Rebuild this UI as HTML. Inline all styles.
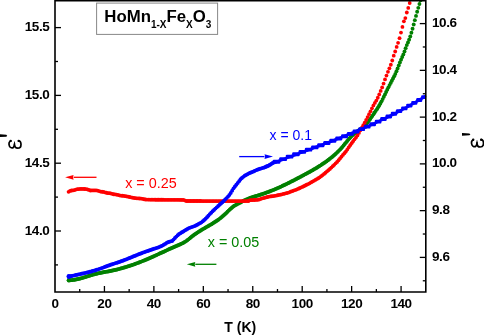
<!DOCTYPE html>
<html><head><meta charset="utf-8"><style>
html,body{margin:0;padding:0;background:#fff;width:484px;height:335px;overflow:hidden}
svg{display:block;will-change:transform}
</style></head><body>
<svg width="484" height="335" viewBox="0 0 484 335">
<rect width="484" height="335" fill="#fff"/>
<g fill="#008000"><circle cx="68.90" cy="280.22" r="1.95"/><circle cx="70.05" cy="280.21" r="1.95"/><circle cx="71.20" cy="280.15" r="1.95"/><circle cx="72.35" cy="280.05" r="1.95"/><circle cx="73.50" cy="279.92" r="1.95"/><circle cx="74.65" cy="279.75" r="1.95"/><circle cx="75.80" cy="279.55" r="1.95"/><circle cx="76.95" cy="279.32" r="1.95"/><circle cx="78.09" cy="279.06" r="1.95"/><circle cx="79.24" cy="278.78" r="1.95"/><circle cx="80.39" cy="278.48" r="1.95"/><circle cx="81.54" cy="278.16" r="1.95"/><circle cx="82.69" cy="277.83" r="1.95"/><circle cx="83.84" cy="277.49" r="1.95"/><circle cx="84.99" cy="277.13" r="1.95"/><circle cx="86.14" cy="276.77" r="1.95"/><circle cx="87.29" cy="276.41" r="1.95"/><circle cx="88.44" cy="276.04" r="1.95"/><circle cx="89.59" cy="275.68" r="1.95"/><circle cx="90.74" cy="275.32" r="1.95"/><circle cx="91.89" cy="274.97" r="1.95"/><circle cx="93.04" cy="274.63" r="1.95"/><circle cx="94.19" cy="274.31" r="1.95"/><circle cx="95.33" cy="273.99" r="1.95"/><circle cx="96.48" cy="273.70" r="1.95"/><circle cx="97.63" cy="273.43" r="1.95"/><circle cx="98.78" cy="273.17" r="1.95"/><circle cx="99.93" cy="272.93" r="1.95"/><circle cx="101.08" cy="272.70" r="1.95"/><circle cx="102.23" cy="272.48" r="1.95"/><circle cx="103.38" cy="272.26" r="1.95"/><circle cx="104.53" cy="272.05" r="1.95"/><circle cx="105.68" cy="271.84" r="1.95"/><circle cx="106.83" cy="271.64" r="1.95"/><circle cx="107.98" cy="271.43" r="1.95"/><circle cx="109.13" cy="271.21" r="1.95"/><circle cx="110.28" cy="270.98" r="1.95"/><circle cx="111.43" cy="270.75" r="1.95"/><circle cx="112.58" cy="270.51" r="1.95"/><circle cx="113.72" cy="270.25" r="1.95"/><circle cx="114.87" cy="269.99" r="1.95"/><circle cx="116.02" cy="269.72" r="1.95"/><circle cx="117.17" cy="269.44" r="1.95"/><circle cx="118.32" cy="269.15" r="1.95"/><circle cx="119.47" cy="268.85" r="1.95"/><circle cx="120.62" cy="268.54" r="1.95"/><circle cx="121.77" cy="268.22" r="1.95"/><circle cx="122.92" cy="267.90" r="1.95"/><circle cx="124.07" cy="267.56" r="1.95"/><circle cx="125.22" cy="267.22" r="1.95"/><circle cx="126.37" cy="266.87" r="1.95"/><circle cx="127.52" cy="266.51" r="1.95"/><circle cx="128.67" cy="266.14" r="1.95"/><circle cx="129.82" cy="265.76" r="1.95"/><circle cx="130.96" cy="265.38" r="1.95"/><circle cx="132.11" cy="264.99" r="1.95"/><circle cx="133.26" cy="264.59" r="1.95"/><circle cx="134.41" cy="264.18" r="1.95"/><circle cx="135.56" cy="263.77" r="1.95"/><circle cx="136.71" cy="263.34" r="1.95"/><circle cx="137.86" cy="262.91" r="1.95"/><circle cx="139.01" cy="262.48" r="1.95"/><circle cx="140.16" cy="262.03" r="1.95"/><circle cx="141.31" cy="261.58" r="1.95"/><circle cx="142.46" cy="261.12" r="1.95"/><circle cx="143.61" cy="260.66" r="1.95"/><circle cx="144.76" cy="260.18" r="1.95"/><circle cx="145.91" cy="259.70" r="1.95"/><circle cx="147.06" cy="259.22" r="1.95"/><circle cx="148.20" cy="258.73" r="1.95"/><circle cx="149.35" cy="258.23" r="1.95"/><circle cx="150.50" cy="257.73" r="1.95"/><circle cx="151.65" cy="257.22" r="1.95"/><circle cx="152.80" cy="256.71" r="1.95"/><circle cx="153.95" cy="256.19" r="1.95"/><circle cx="155.10" cy="255.67" r="1.95"/><circle cx="156.25" cy="255.15" r="1.95"/><circle cx="157.40" cy="254.62" r="1.95"/><circle cx="158.55" cy="254.10" r="1.95"/><circle cx="159.70" cy="253.57" r="1.95"/><circle cx="160.85" cy="253.04" r="1.95"/><circle cx="162.00" cy="252.50" r="1.95"/><circle cx="163.15" cy="251.97" r="1.95"/><circle cx="164.30" cy="251.44" r="1.95"/><circle cx="165.45" cy="250.91" r="1.95"/><circle cx="166.59" cy="250.37" r="1.95"/><circle cx="167.74" cy="249.84" r="1.95"/><circle cx="168.89" cy="249.31" r="1.95"/><circle cx="170.04" cy="248.78" r="1.95"/><circle cx="171.19" cy="248.26" r="1.95"/><circle cx="172.34" cy="247.74" r="1.95"/><circle cx="173.49" cy="247.22" r="1.95"/><circle cx="174.64" cy="246.70" r="1.95"/><circle cx="175.79" cy="246.19" r="1.95"/><circle cx="176.94" cy="245.68" r="1.95"/><circle cx="178.09" cy="245.18" r="1.95"/><circle cx="179.24" cy="244.68" r="1.95"/><circle cx="180.39" cy="244.19" r="1.95"/><circle cx="181.54" cy="243.67" r="1.95"/><circle cx="182.69" cy="243.13" r="1.95"/><circle cx="183.83" cy="242.52" r="1.95"/><circle cx="184.98" cy="241.85" r="1.95"/><circle cx="186.13" cy="241.09" r="1.95"/><circle cx="187.28" cy="240.25" r="1.95"/><circle cx="188.43" cy="239.36" r="1.95"/><circle cx="189.58" cy="238.42" r="1.95"/><circle cx="190.73" cy="237.48" r="1.95"/><circle cx="191.88" cy="236.55" r="1.95"/><circle cx="193.03" cy="235.66" r="1.95"/><circle cx="194.18" cy="234.80" r="1.95"/><circle cx="195.33" cy="233.97" r="1.95"/><circle cx="196.48" cy="233.18" r="1.95"/><circle cx="197.63" cy="232.41" r="1.95"/><circle cx="198.78" cy="231.67" r="1.95"/><circle cx="199.93" cy="230.94" r="1.95"/><circle cx="201.07" cy="230.24" r="1.95"/><circle cx="202.22" cy="229.55" r="1.95"/><circle cx="203.37" cy="228.87" r="1.95"/><circle cx="204.52" cy="228.20" r="1.95"/><circle cx="205.67" cy="227.54" r="1.95"/><circle cx="206.82" cy="226.87" r="1.95"/><circle cx="207.97" cy="226.21" r="1.95"/><circle cx="209.12" cy="225.55" r="1.95"/><circle cx="210.27" cy="224.87" r="1.95"/><circle cx="211.42" cy="224.19" r="1.95"/><circle cx="212.57" cy="223.49" r="1.95"/><circle cx="213.72" cy="222.78" r="1.95"/><circle cx="214.87" cy="222.04" r="1.95"/><circle cx="216.02" cy="221.28" r="1.95"/><circle cx="217.17" cy="220.50" r="1.95"/><circle cx="218.32" cy="219.69" r="1.95"/><circle cx="219.46" cy="218.84" r="1.95"/><circle cx="220.61" cy="217.96" r="1.95"/><circle cx="221.76" cy="217.04" r="1.95"/><circle cx="222.91" cy="216.07" r="1.95"/><circle cx="224.06" cy="215.07" r="1.95"/><circle cx="225.21" cy="214.01" r="1.95"/><circle cx="226.36" cy="212.90" r="1.95"/><circle cx="227.51" cy="211.76" r="1.95"/><circle cx="228.66" cy="210.62" r="1.95"/><circle cx="229.81" cy="209.50" r="1.95"/><circle cx="230.96" cy="208.43" r="1.95"/><circle cx="232.11" cy="207.43" r="1.95"/><circle cx="233.26" cy="206.54" r="1.95"/><circle cx="234.41" cy="205.77" r="1.95"/><circle cx="235.56" cy="205.08" r="1.95"/><circle cx="236.70" cy="204.46" r="1.95"/><circle cx="237.85" cy="203.86" r="1.95"/><circle cx="239.00" cy="203.26" r="1.95"/><circle cx="240.15" cy="202.63" r="1.95"/><circle cx="241.30" cy="202.00" r="1.95"/><circle cx="242.45" cy="201.36" r="1.95"/><circle cx="243.60" cy="200.74" r="1.95"/><circle cx="244.75" cy="200.15" r="1.95"/><circle cx="245.90" cy="199.60" r="1.95"/><circle cx="247.05" cy="199.10" r="1.95"/><circle cx="248.20" cy="198.63" r="1.95"/><circle cx="249.35" cy="198.19" r="1.95"/><circle cx="250.50" cy="197.78" r="1.95"/><circle cx="251.65" cy="197.39" r="1.95"/><circle cx="252.80" cy="197.03" r="1.95"/><circle cx="253.94" cy="196.67" r="1.95"/><circle cx="255.09" cy="196.32" r="1.95"/><circle cx="256.24" cy="195.98" r="1.95"/><circle cx="257.39" cy="195.64" r="1.95"/><circle cx="258.54" cy="195.29" r="1.95"/><circle cx="259.69" cy="194.93" r="1.95"/><circle cx="260.84" cy="194.56" r="1.95"/><circle cx="261.99" cy="194.18" r="1.95"/><circle cx="263.14" cy="193.79" r="1.95"/><circle cx="264.29" cy="193.39" r="1.95"/><circle cx="265.44" cy="192.98" r="1.95"/><circle cx="266.59" cy="192.57" r="1.95"/><circle cx="267.74" cy="192.14" r="1.95"/><circle cx="268.89" cy="191.71" r="1.95"/><circle cx="270.04" cy="191.26" r="1.95"/><circle cx="271.18" cy="190.81" r="1.95"/><circle cx="272.33" cy="190.35" r="1.95"/><circle cx="273.48" cy="189.88" r="1.95"/><circle cx="274.63" cy="189.40" r="1.95"/><circle cx="275.78" cy="188.91" r="1.95"/><circle cx="276.93" cy="188.41" r="1.95"/><circle cx="278.08" cy="187.91" r="1.95"/><circle cx="279.23" cy="187.40" r="1.95"/><circle cx="280.38" cy="186.88" r="1.95"/><circle cx="281.53" cy="186.35" r="1.95"/><circle cx="282.68" cy="185.81" r="1.95"/><circle cx="283.83" cy="185.27" r="1.95"/><circle cx="284.98" cy="184.72" r="1.95"/><circle cx="286.13" cy="184.16" r="1.95"/><circle cx="287.28" cy="183.60" r="1.95"/><circle cx="288.43" cy="183.03" r="1.95"/><circle cx="289.57" cy="182.45" r="1.95"/><circle cx="290.72" cy="181.87" r="1.95"/><circle cx="291.87" cy="181.29" r="1.95"/><circle cx="293.02" cy="180.70" r="1.95"/><circle cx="294.17" cy="180.10" r="1.95"/><circle cx="295.32" cy="179.50" r="1.95"/><circle cx="296.47" cy="178.90" r="1.95"/><circle cx="297.62" cy="178.30" r="1.95"/><circle cx="298.77" cy="177.69" r="1.95"/><circle cx="299.92" cy="177.08" r="1.95"/><circle cx="301.07" cy="176.47" r="1.95"/><circle cx="302.22" cy="175.85" r="1.95"/><circle cx="303.37" cy="175.24" r="1.95"/><circle cx="304.52" cy="174.62" r="1.95"/><circle cx="305.67" cy="174.00" r="1.95"/><circle cx="306.81" cy="173.38" r="1.95"/><circle cx="307.96" cy="172.76" r="1.95"/><circle cx="309.11" cy="172.13" r="1.95"/><circle cx="310.26" cy="171.49" r="1.95"/><circle cx="311.41" cy="170.85" r="1.95"/><circle cx="312.56" cy="170.19" r="1.95"/><circle cx="313.71" cy="169.53" r="1.95"/><circle cx="314.86" cy="168.86" r="1.95"/><circle cx="316.01" cy="168.18" r="1.95"/><circle cx="317.16" cy="167.49" r="1.95"/><circle cx="318.31" cy="166.78" r="1.95"/><circle cx="319.46" cy="166.06" r="1.95"/><circle cx="320.61" cy="165.33" r="1.95"/><circle cx="321.76" cy="164.57" r="1.95"/><circle cx="322.91" cy="163.81" r="1.95"/><circle cx="324.05" cy="163.02" r="1.95"/><circle cx="325.20" cy="162.21" r="1.95"/><circle cx="326.35" cy="161.39" r="1.95"/><circle cx="327.50" cy="160.54" r="1.95"/><circle cx="328.65" cy="159.68" r="1.95"/><circle cx="329.80" cy="158.79" r="1.95"/><circle cx="330.95" cy="157.87" r="1.95"/><circle cx="332.10" cy="156.94" r="1.95"/><circle cx="333.25" cy="155.97" r="1.95"/><circle cx="334.40" cy="154.97" r="1.95"/><circle cx="335.55" cy="153.94" r="1.95"/><circle cx="336.70" cy="152.87" r="1.95"/><circle cx="337.85" cy="151.76" r="1.95"/><circle cx="339.00" cy="150.60" r="1.95"/><circle cx="340.15" cy="149.40" r="1.95"/><circle cx="341.30" cy="148.14" r="1.95"/><circle cx="342.44" cy="146.83" r="1.95"/><circle cx="343.59" cy="145.46" r="1.95"/><circle cx="344.74" cy="144.06" r="1.95"/><circle cx="345.89" cy="142.64" r="1.95"/><circle cx="347.04" cy="141.23" r="1.95"/><circle cx="348.19" cy="139.84" r="1.95"/><circle cx="349.34" cy="138.49" r="1.95"/><circle cx="350.49" cy="137.21" r="1.95"/><circle cx="351.64" cy="136.02" r="1.95"/><circle cx="352.79" cy="134.93" r="1.95"/><circle cx="353.94" cy="133.94" r="1.95"/><circle cx="355.09" cy="133.03" r="1.95"/><circle cx="356.24" cy="132.18" r="1.95"/><circle cx="357.39" cy="131.36" r="1.95"/><circle cx="358.54" cy="130.57" r="1.95"/><circle cx="359.68" cy="129.77" r="1.95"/><circle cx="360.83" cy="128.95" r="1.95"/><circle cx="361.98" cy="128.08" r="1.95"/><circle cx="363.13" cy="127.14" r="1.95"/><circle cx="364.28" cy="126.12" r="1.95"/><circle cx="365.43" cy="124.99" r="1.95"/><circle cx="366.58" cy="123.73" r="1.95"/><circle cx="367.73" cy="122.33" r="1.95"/><circle cx="368.88" cy="120.82" r="1.95"/><circle cx="370.03" cy="119.22" r="1.95"/><circle cx="371.18" cy="117.57" r="1.95"/><circle cx="372.33" cy="115.88" r="1.95"/><circle cx="373.48" cy="114.19" r="1.95"/><circle cx="374.63" cy="112.51" r="1.95"/><circle cx="375.78" cy="110.84" r="1.95"/><circle cx="376.92" cy="109.14" r="1.95"/><circle cx="378.07" cy="107.37" r="1.95"/><circle cx="379.22" cy="105.50" r="1.95"/><circle cx="380.37" cy="103.49" r="1.95"/><circle cx="381.52" cy="101.35" r="1.95"/><circle cx="382.67" cy="99.10" r="1.95"/><circle cx="383.82" cy="96.78" r="1.95"/><circle cx="384.97" cy="94.41" r="1.95"/><circle cx="386.12" cy="92.03" r="1.95"/><circle cx="387.27" cy="89.66" r="1.95"/><circle cx="388.42" cy="87.33" r="1.95"/><circle cx="389.57" cy="85.08" r="1.95"/><circle cx="390.72" cy="82.90" r="1.95"/><circle cx="391.87" cy="80.74" r="1.95"/><circle cx="393.02" cy="78.55" r="1.95"/><circle cx="394.17" cy="76.29" r="1.95"/><circle cx="395.31" cy="73.89" r="1.95"/><circle cx="396.46" cy="71.32" r="1.95"/><circle cx="397.61" cy="68.51" r="1.95"/><circle cx="398.76" cy="65.52" r="1.95"/><circle cx="399.91" cy="62.50" r="1.95"/><circle cx="401.06" cy="59.63" r="1.95"/><circle cx="402.21" cy="57.01" r="1.95"/><circle cx="403.36" cy="54.39" r="1.95"/><circle cx="404.51" cy="51.44" r="1.95"/><circle cx="405.66" cy="48.17" r="1.95"/><circle cx="406.81" cy="45.10" r="1.95"/><circle cx="407.96" cy="42.41" r="1.95"/><circle cx="409.11" cy="39.66" r="1.95"/><circle cx="410.26" cy="36.45" r="1.95"/><circle cx="411.41" cy="32.75" r="1.95"/><circle cx="412.55" cy="28.70" r="1.95"/><circle cx="413.70" cy="24.45" r="1.95"/><circle cx="414.85" cy="20.13" r="1.95"/><circle cx="416.00" cy="15.89" r="1.95"/><circle cx="417.15" cy="11.81" r="1.95"/><circle cx="418.30" cy="7.87" r="1.95"/><circle cx="419.45" cy="4.03" r="1.95"/><circle cx="420.60" cy="0.24" r="1.95"/></g>
<circle cx="68.9" cy="280.3" r="2.2" fill="#008000"/>
<g fill="#ff0000"><circle cx="68.60" cy="191.80" r="1.9"/><circle cx="70.05" cy="190.93" r="1.9"/><circle cx="71.50" cy="190.52" r="1.9"/><circle cx="72.95" cy="190.38" r="1.9"/><circle cx="74.41" cy="190.10" r="1.9"/><circle cx="75.86" cy="189.61" r="1.9"/><circle cx="77.31" cy="189.18" r="1.9"/><circle cx="78.76" cy="189.05" r="1.9"/><circle cx="80.21" cy="188.92" r="1.9"/><circle cx="81.66" cy="188.90" r="1.9"/><circle cx="83.11" cy="188.90" r="1.9"/><circle cx="84.57" cy="188.98" r="1.9"/><circle cx="86.02" cy="189.11" r="1.9"/><circle cx="87.47" cy="189.38" r="1.9"/><circle cx="88.92" cy="189.96" r="1.9"/><circle cx="90.37" cy="190.50" r="1.9"/><circle cx="91.82" cy="190.46" r="1.9"/><circle cx="93.28" cy="190.42" r="1.9"/><circle cx="94.73" cy="190.42" r="1.9"/><circle cx="96.18" cy="190.47" r="1.9"/><circle cx="97.63" cy="190.61" r="1.9"/><circle cx="99.08" cy="191.09" r="1.9"/><circle cx="100.53" cy="191.58" r="1.9"/><circle cx="101.98" cy="191.77" r="1.9"/><circle cx="103.44" cy="191.95" r="1.9"/><circle cx="104.89" cy="192.33" r="1.9"/><circle cx="106.34" cy="192.77" r="1.9"/><circle cx="107.79" cy="193.06" r="1.9"/><circle cx="109.24" cy="193.19" r="1.9"/><circle cx="110.69" cy="193.39" r="1.9"/><circle cx="112.14" cy="193.83" r="1.9"/><circle cx="113.60" cy="194.27" r="1.9"/><circle cx="115.05" cy="194.42" r="1.9"/><circle cx="116.50" cy="194.55" r="1.9"/><circle cx="117.95" cy="194.89" r="1.9"/><circle cx="119.40" cy="195.33" r="1.9"/><circle cx="120.85" cy="195.64" r="1.9"/><circle cx="122.31" cy="195.73" r="1.9"/><circle cx="123.76" cy="195.87" r="1.9"/><circle cx="125.21" cy="196.15" r="1.9"/><circle cx="126.66" cy="196.43" r="1.9"/><circle cx="128.11" cy="196.71" r="1.9"/><circle cx="129.56" cy="197.01" r="1.9"/><circle cx="131.01" cy="197.32" r="1.9"/><circle cx="132.47" cy="197.63" r="1.9"/><circle cx="133.92" cy="197.95" r="1.9"/><circle cx="135.37" cy="198.22" r="1.9"/><circle cx="136.82" cy="198.30" r="1.9"/><circle cx="138.27" cy="198.39" r="1.9"/><circle cx="139.72" cy="198.48" r="1.9"/><circle cx="141.17" cy="198.57" r="1.9"/><circle cx="142.63" cy="198.85" r="1.9"/><circle cx="144.08" cy="199.25" r="1.9"/><circle cx="145.53" cy="199.52" r="1.9"/><circle cx="146.98" cy="199.56" r="1.9"/><circle cx="148.43" cy="199.61" r="1.9"/><circle cx="149.88" cy="199.65" r="1.9"/><circle cx="151.33" cy="199.70" r="1.9"/><circle cx="152.79" cy="199.71" r="1.9"/><circle cx="154.24" cy="199.72" r="1.9"/><circle cx="155.69" cy="199.73" r="1.9"/><circle cx="157.14" cy="199.74" r="1.9"/><circle cx="158.59" cy="199.74" r="1.9"/><circle cx="160.04" cy="199.75" r="1.9"/><circle cx="161.50" cy="199.76" r="1.9"/><circle cx="162.95" cy="199.77" r="1.9"/><circle cx="164.40" cy="199.78" r="1.9"/><circle cx="165.85" cy="199.79" r="1.9"/><circle cx="167.30" cy="199.80" r="1.9"/><circle cx="168.75" cy="199.81" r="1.9"/><circle cx="170.20" cy="199.82" r="1.9"/><circle cx="171.66" cy="199.82" r="1.9"/><circle cx="173.11" cy="199.83" r="1.9"/><circle cx="174.56" cy="199.84" r="1.9"/><circle cx="176.01" cy="199.85" r="1.9"/><circle cx="177.46" cy="199.86" r="1.9"/><circle cx="178.91" cy="199.87" r="1.9"/><circle cx="180.36" cy="199.88" r="1.9"/><circle cx="181.82" cy="199.89" r="1.9"/><circle cx="183.27" cy="199.90" r="1.9"/><circle cx="184.72" cy="200.30" r="1.9"/><circle cx="186.17" cy="201.00" r="1.9"/><circle cx="187.62" cy="201.00" r="1.9"/><circle cx="189.07" cy="201.00" r="1.9"/><circle cx="190.53" cy="201.01" r="1.9"/><circle cx="191.98" cy="201.01" r="1.9"/><circle cx="193.43" cy="201.01" r="1.9"/><circle cx="194.88" cy="201.01" r="1.9"/><circle cx="196.33" cy="201.02" r="1.9"/><circle cx="197.78" cy="201.02" r="1.9"/><circle cx="199.23" cy="201.02" r="1.9"/><circle cx="200.69" cy="201.02" r="1.9"/><circle cx="202.14" cy="201.03" r="1.9"/><circle cx="203.59" cy="201.03" r="1.9"/><circle cx="205.04" cy="201.03" r="1.9"/><circle cx="206.49" cy="201.03" r="1.9"/><circle cx="207.94" cy="201.04" r="1.9"/><circle cx="209.39" cy="201.04" r="1.9"/><circle cx="210.85" cy="201.04" r="1.9"/><circle cx="212.30" cy="201.04" r="1.9"/><circle cx="213.75" cy="201.04" r="1.9"/><circle cx="215.20" cy="201.05" r="1.9"/><circle cx="216.65" cy="201.05" r="1.9"/><circle cx="218.10" cy="201.05" r="1.9"/><circle cx="219.55" cy="201.05" r="1.9"/><circle cx="221.01" cy="201.06" r="1.9"/><circle cx="222.46" cy="201.06" r="1.9"/><circle cx="223.91" cy="201.06" r="1.9"/><circle cx="225.36" cy="201.06" r="1.9"/><circle cx="226.81" cy="201.07" r="1.9"/><circle cx="228.26" cy="201.07" r="1.9"/><circle cx="229.72" cy="201.07" r="1.9"/><circle cx="231.17" cy="201.07" r="1.9"/><circle cx="232.62" cy="201.07" r="1.9"/><circle cx="234.07" cy="201.08" r="1.9"/><circle cx="235.52" cy="201.08" r="1.9"/><circle cx="236.97" cy="201.08" r="1.9"/><circle cx="238.42" cy="201.08" r="1.9"/><circle cx="239.88" cy="201.09" r="1.9"/><circle cx="241.33" cy="201.09" r="1.9"/><circle cx="242.78" cy="201.09" r="1.9"/><circle cx="244.23" cy="201.09" r="1.9"/><circle cx="245.68" cy="201.10" r="1.9"/><circle cx="247.13" cy="201.10" r="1.9"/><circle cx="248.58" cy="201.00" r="1.9"/><circle cx="250.04" cy="200.20" r="1.9"/><circle cx="251.49" cy="200.13" r="1.9"/><circle cx="252.94" cy="200.06" r="1.9"/><circle cx="254.39" cy="199.99" r="1.9"/><circle cx="255.84" cy="199.92" r="1.9"/><circle cx="257.29" cy="199.85" r="1.9"/><circle cx="258.75" cy="199.64" r="1.9"/><circle cx="260.20" cy="199.10" r="1.9"/><circle cx="261.65" cy="198.62" r="1.9"/><circle cx="263.10" cy="198.22" r="1.9"/><circle cx="264.55" cy="197.82" r="1.9"/><circle cx="266.00" cy="197.42" r="1.9"/><circle cx="267.45" cy="197.02" r="1.9"/><circle cx="268.91" cy="196.66" r="1.9"/><circle cx="270.36" cy="196.46" r="1.9"/><circle cx="271.81" cy="196.26" r="1.9"/><circle cx="273.26" cy="196.05" r="1.9"/><circle cx="274.71" cy="195.85" r="1.9"/><circle cx="276.16" cy="195.57" r="1.9"/><circle cx="277.61" cy="195.27" r="1.9"/><circle cx="279.07" cy="194.96" r="1.9"/><circle cx="280.52" cy="194.65" r="1.9"/><circle cx="281.97" cy="194.33" r="1.9"/><circle cx="283.42" cy="193.96" r="1.9"/><circle cx="284.87" cy="193.58" r="1.9"/><circle cx="286.32" cy="193.21" r="1.9"/><circle cx="287.77" cy="192.84" r="1.9"/><circle cx="289.23" cy="192.31" r="1.9"/><circle cx="290.68" cy="191.70" r="1.9"/><circle cx="292.13" cy="191.13" r="1.9"/><circle cx="293.58" cy="190.60" r="1.9"/><circle cx="295.03" cy="190.07" r="1.9"/><circle cx="296.48" cy="189.54" r="1.9"/><circle cx="297.94" cy="188.90" r="1.9"/><circle cx="299.39" cy="188.26" r="1.9"/><circle cx="300.84" cy="187.61" r="1.9"/><circle cx="302.29" cy="186.96" r="1.9"/><circle cx="303.74" cy="186.27" r="1.9"/><circle cx="305.19" cy="185.52" r="1.9"/><circle cx="306.64" cy="184.77" r="1.9"/><circle cx="308.10" cy="184.03" r="1.9"/><circle cx="309.55" cy="183.28" r="1.9"/><circle cx="311.00" cy="182.45" r="1.9"/><circle cx="312.45" cy="181.62" r="1.9"/><circle cx="313.90" cy="180.78" r="1.9"/><circle cx="315.35" cy="179.95" r="1.9"/><circle cx="316.80" cy="179.11" r="1.9"/><circle cx="318.26" cy="178.26" r="1.9"/><circle cx="319.71" cy="177.36" r="1.9"/><circle cx="321.16" cy="176.22" r="1.9"/><circle cx="322.61" cy="175.08" r="1.9"/><circle cx="324.06" cy="173.94" r="1.9"/><circle cx="325.51" cy="172.74" r="1.9"/><circle cx="326.97" cy="171.46" r="1.9"/><circle cx="328.42" cy="170.17" r="1.9"/><circle cx="329.87" cy="168.88" r="1.9"/><circle cx="331.32" cy="167.58" r="1.9"/><circle cx="332.77" cy="166.18" r="1.9"/><circle cx="334.22" cy="164.78" r="1.9"/><circle cx="335.67" cy="163.37" r="1.9"/><circle cx="337.13" cy="161.97" r="1.9"/><circle cx="338.58" cy="160.23" r="1.9"/><circle cx="340.03" cy="158.45" r="1.9"/><circle cx="341.48" cy="156.67" r="1.9"/><circle cx="342.93" cy="154.88" r="1.9"/><circle cx="344.38" cy="153.24" r="1.9"/><circle cx="345.83" cy="151.61" r="1.9"/><circle cx="347.29" cy="149.56" r="1.9"/><circle cx="348.74" cy="147.36" r="1.9"/><circle cx="350.19" cy="145.17" r="1.9"/><circle cx="351.64" cy="143.19" r="1.9"/><circle cx="353.09" cy="141.27" r="1.9"/><circle cx="354.54" cy="139.34" r="1.9"/><circle cx="355.99" cy="137.39" r="1.9"/><circle cx="357.45" cy="135.44" r="1.9"/><circle cx="358.90" cy="132.96" r="1.9"/><circle cx="360.35" cy="130.37" r="1.9"/><circle cx="361.80" cy="127.78" r="1.9"/><circle cx="363.25" cy="125.19" r="1.9"/><circle cx="364.70" cy="122.63" r="1.9"/><circle cx="366.16" cy="119.92" r="1.9"/><circle cx="367.61" cy="117.09" r="1.9"/><circle cx="369.06" cy="114.18" r="1.9"/><circle cx="370.51" cy="111.28" r="1.9"/><circle cx="371.96" cy="108.33" r="1.9"/><circle cx="373.41" cy="105.39" r="1.9"/><circle cx="374.86" cy="102.89" r="1.9"/><circle cx="376.32" cy="100.56" r="1.9"/><circle cx="377.77" cy="97.76" r="1.9"/><circle cx="379.22" cy="94.41" r="1.9"/><circle cx="380.67" cy="90.97" r="1.9"/><circle cx="382.12" cy="87.45" r="1.9"/><circle cx="383.57" cy="83.57" r="1.9"/><circle cx="385.02" cy="79.39" r="1.9"/><circle cx="386.48" cy="75.54" r="1.9"/><circle cx="387.93" cy="71.79" r="1.9"/><circle cx="389.38" cy="68.30" r="1.9"/><circle cx="390.83" cy="64.76" r="1.9"/><circle cx="392.28" cy="60.48" r="1.9"/><circle cx="393.73" cy="55.71" r="1.9"/><circle cx="395.19" cy="51.51" r="1.9"/><circle cx="396.64" cy="46.93" r="1.9"/><circle cx="398.09" cy="42.87" r="1.9"/><circle cx="399.54" cy="38.14" r="1.9"/><circle cx="400.99" cy="32.54" r="1.9"/><circle cx="402.44" cy="26.93" r="1.9"/><circle cx="403.89" cy="21.32" r="1.9"/><circle cx="405.35" cy="18.05" r="1.9"/><circle cx="406.80" cy="12.51" r="1.9"/><circle cx="408.25" cy="7.90" r="1.9"/><circle cx="409.70" cy="3.00" r="1.9"/></g>
<g fill="#0000ff"><circle cx="68.90" cy="276.64" r="1.95"/><circle cx="70.30" cy="276.30" r="1.95"/><circle cx="71.69" cy="275.97" r="1.95"/><circle cx="73.09" cy="275.64" r="1.95"/><circle cx="74.48" cy="275.33" r="1.95"/><circle cx="75.88" cy="275.02" r="1.95"/><circle cx="77.27" cy="274.71" r="1.95"/><circle cx="78.67" cy="274.41" r="1.95"/><circle cx="80.06" cy="274.10" r="1.95"/><circle cx="81.46" cy="273.80" r="1.95"/><circle cx="82.85" cy="273.49" r="1.95"/><circle cx="84.25" cy="273.17" r="1.95"/><circle cx="85.64" cy="272.85" r="1.95"/><circle cx="87.04" cy="272.52" r="1.95"/><circle cx="88.43" cy="272.18" r="1.95"/><circle cx="89.83" cy="271.82" r="1.95"/><circle cx="91.22" cy="271.45" r="1.95"/><circle cx="92.62" cy="271.07" r="1.95"/><circle cx="94.01" cy="270.66" r="1.95"/><circle cx="95.41" cy="270.24" r="1.95"/><circle cx="96.80" cy="269.79" r="1.95"/><circle cx="98.20" cy="269.33" r="1.95"/><circle cx="99.59" cy="268.85" r="1.95"/><circle cx="100.99" cy="268.35" r="1.95"/><circle cx="102.38" cy="267.85" r="1.95"/><circle cx="103.78" cy="267.33" r="1.95"/><circle cx="105.18" cy="266.82" r="1.95"/><circle cx="106.57" cy="266.30" r="1.95"/><circle cx="107.97" cy="265.79" r="1.95"/><circle cx="109.36" cy="265.29" r="1.95"/><circle cx="110.76" cy="264.80" r="1.95"/><circle cx="112.15" cy="264.32" r="1.95"/><circle cx="113.55" cy="263.84" r="1.95"/><circle cx="114.94" cy="263.37" r="1.95"/><circle cx="116.34" cy="262.90" r="1.95"/><circle cx="117.73" cy="262.43" r="1.95"/><circle cx="119.13" cy="261.95" r="1.95"/><circle cx="120.52" cy="261.46" r="1.95"/><circle cx="121.92" cy="260.96" r="1.95"/><circle cx="123.31" cy="260.45" r="1.95"/><circle cx="124.71" cy="259.92" r="1.95"/><circle cx="126.10" cy="259.38" r="1.95"/><circle cx="127.50" cy="258.83" r="1.95"/><circle cx="128.89" cy="258.27" r="1.95"/><circle cx="130.29" cy="257.71" r="1.95"/><circle cx="131.68" cy="257.14" r="1.95"/><circle cx="133.08" cy="256.57" r="1.95"/><circle cx="134.47" cy="256.00" r="1.95"/><circle cx="135.87" cy="255.43" r="1.95"/><circle cx="137.27" cy="254.86" r="1.95"/><circle cx="138.66" cy="254.30" r="1.95"/><circle cx="140.06" cy="253.75" r="1.95"/><circle cx="141.45" cy="253.21" r="1.95"/><circle cx="142.85" cy="252.67" r="1.95"/><circle cx="144.24" cy="252.16" r="1.95"/><circle cx="145.64" cy="251.65" r="1.95"/><circle cx="147.03" cy="251.16" r="1.95"/><circle cx="148.43" cy="250.68" r="1.95"/><circle cx="149.82" cy="250.21" r="1.95"/><circle cx="151.22" cy="249.74" r="1.95"/><circle cx="152.61" cy="249.27" r="1.95"/><circle cx="154.01" cy="248.79" r="1.95"/><circle cx="155.40" cy="248.35" r="1.95"/><circle cx="156.80" cy="247.90" r="1.95"/><circle cx="158.19" cy="247.40" r="1.95"/><circle cx="159.59" cy="246.83" r="1.95"/><circle cx="160.98" cy="246.23" r="1.95"/><circle cx="162.38" cy="245.59" r="1.95"/><circle cx="163.77" cy="244.81" r="1.95"/><circle cx="165.17" cy="243.88" r="1.95"/><circle cx="166.56" cy="242.89" r="1.95"/><circle cx="167.96" cy="242.23" r="1.95"/><circle cx="169.35" cy="241.73" r="1.95"/><circle cx="170.75" cy="241.35" r="1.95"/><circle cx="172.15" cy="240.97" r="1.95"/><circle cx="173.54" cy="239.62" r="1.95"/><circle cx="174.94" cy="238.06" r="1.95"/><circle cx="176.33" cy="236.59" r="1.95"/><circle cx="177.73" cy="235.24" r="1.95"/><circle cx="179.12" cy="233.93" r="1.95"/><circle cx="180.52" cy="233.13" r="1.95"/><circle cx="181.91" cy="232.32" r="1.95"/><circle cx="183.31" cy="231.48" r="1.95"/><circle cx="184.70" cy="230.61" r="1.95"/><circle cx="186.10" cy="229.75" r="1.95"/><circle cx="187.49" cy="228.89" r="1.95"/><circle cx="188.89" cy="228.10" r="1.95"/><circle cx="190.28" cy="227.60" r="1.95"/><circle cx="191.68" cy="227.11" r="1.95"/><circle cx="193.07" cy="226.62" r="1.95"/><circle cx="194.47" cy="226.12" r="1.95"/><circle cx="195.86" cy="225.47" r="1.95"/><circle cx="197.26" cy="224.69" r="1.95"/><circle cx="198.65" cy="223.91" r="1.95"/><circle cx="200.05" cy="223.13" r="1.95"/><circle cx="201.44" cy="222.34" r="1.95"/><circle cx="202.84" cy="221.22" r="1.95"/><circle cx="204.23" cy="220.02" r="1.95"/><circle cx="205.63" cy="218.82" r="1.95"/><circle cx="207.03" cy="217.32" r="1.95"/><circle cx="208.42" cy="215.71" r="1.95"/><circle cx="209.82" cy="214.10" r="1.95"/><circle cx="211.21" cy="212.69" r="1.95"/><circle cx="212.61" cy="211.29" r="1.95"/><circle cx="214.00" cy="209.90" r="1.95"/><circle cx="215.40" cy="208.59" r="1.95"/><circle cx="216.79" cy="207.33" r="1.95"/><circle cx="218.19" cy="206.07" r="1.95"/><circle cx="219.58" cy="204.82" r="1.95"/><circle cx="220.98" cy="203.51" r="1.95"/><circle cx="222.37" cy="202.20" r="1.95"/><circle cx="223.77" cy="200.89" r="1.95"/><circle cx="225.16" cy="199.52" r="1.95"/><circle cx="226.56" cy="198.10" r="1.95"/><circle cx="227.95" cy="196.67" r="1.95"/><circle cx="229.35" cy="195.07" r="1.95"/><circle cx="230.74" cy="192.93" r="1.95"/><circle cx="232.14" cy="190.64" r="1.95"/><circle cx="233.53" cy="188.36" r="1.95"/><circle cx="234.93" cy="186.57" r="1.95"/><circle cx="236.32" cy="184.79" r="1.95"/><circle cx="237.72" cy="182.99" r="1.95"/><circle cx="239.12" cy="181.15" r="1.95"/><circle cx="240.51" cy="179.32" r="1.95"/><circle cx="241.91" cy="178.07" r="1.95"/><circle cx="243.30" cy="176.85" r="1.95"/><circle cx="244.70" cy="175.73" r="1.95"/><circle cx="246.09" cy="174.93" r="1.95"/><circle cx="247.49" cy="174.14" r="1.95"/><circle cx="248.88" cy="173.38" r="1.95"/><circle cx="250.28" cy="172.80" r="1.95"/><circle cx="251.67" cy="172.22" r="1.95"/><circle cx="253.07" cy="171.64" r="1.95"/><circle cx="254.46" cy="170.98" r="1.95"/><circle cx="255.86" cy="170.36" r="1.95"/><circle cx="257.25" cy="169.79" r="1.95"/><circle cx="258.65" cy="169.26" r="1.95"/><circle cx="260.04" cy="168.78" r="1.95"/><circle cx="261.44" cy="168.33" r="1.95"/><circle cx="262.83" cy="167.89" r="1.95"/><circle cx="264.23" cy="167.46" r="1.95"/><circle cx="265.62" cy="167.00" r="1.95"/><circle cx="267.02" cy="166.42" r="1.95"/><circle cx="268.41" cy="165.75" r="1.95"/><circle cx="269.81" cy="164.96" r="1.95"/><circle cx="271.20" cy="164.05" r="1.95"/><circle cx="272.60" cy="162.99" r="1.95"/></g>
<circle cx="68.9" cy="276.5" r="2.4" fill="#0000ff"/>
<g fill="#0000ff"><circle cx="266.00" cy="166.01" r="1.5"/><circle cx="267.41" cy="165.45" r="1.5"/><circle cx="268.81" cy="164.89" r="1.5"/><circle cx="270.22" cy="164.34" r="1.5"/><circle cx="271.62" cy="163.79" r="1.5"/><circle cx="273.03" cy="163.24" r="1.5"/><circle cx="274.44" cy="162.69" r="1.5"/><circle cx="275.84" cy="162.15" r="1.5"/><circle cx="277.25" cy="161.61" r="1.5"/><circle cx="278.66" cy="161.07" r="1.5"/><circle cx="280.06" cy="160.53" r="1.5"/><circle cx="281.47" cy="159.99" r="1.5"/><circle cx="282.87" cy="159.45" r="1.5"/><circle cx="284.28" cy="158.92" r="1.5"/><circle cx="285.69" cy="158.39" r="1.5"/><circle cx="287.09" cy="157.85" r="1.5"/><circle cx="288.50" cy="157.32" r="1.5"/><circle cx="289.91" cy="156.79" r="1.5"/><circle cx="291.31" cy="156.26" r="1.5"/><circle cx="292.72" cy="155.74" r="1.5"/><circle cx="294.12" cy="155.21" r="1.5"/><circle cx="295.53" cy="154.68" r="1.5"/><circle cx="296.94" cy="154.16" r="1.5"/><circle cx="298.34" cy="153.63" r="1.5"/><circle cx="299.75" cy="153.11" r="1.5"/><circle cx="301.15" cy="152.58" r="1.5"/><circle cx="302.56" cy="152.06" r="1.5"/><circle cx="303.97" cy="151.54" r="1.5"/><circle cx="305.37" cy="151.01" r="1.5"/><circle cx="306.78" cy="150.49" r="1.5"/><circle cx="308.19" cy="149.96" r="1.5"/><circle cx="309.59" cy="149.44" r="1.5"/><circle cx="311.00" cy="148.91" r="1.5"/><circle cx="312.40" cy="148.39" r="1.5"/><circle cx="313.81" cy="147.86" r="1.5"/><circle cx="315.22" cy="147.33" r="1.5"/><circle cx="316.62" cy="146.81" r="1.5"/><circle cx="318.03" cy="146.28" r="1.5"/><circle cx="319.44" cy="145.75" r="1.5"/><circle cx="320.84" cy="145.22" r="1.5"/><circle cx="322.25" cy="144.69" r="1.5"/><circle cx="323.65" cy="144.16" r="1.5"/><circle cx="325.06" cy="143.62" r="1.5"/><circle cx="326.47" cy="143.09" r="1.5"/><circle cx="327.87" cy="142.55" r="1.5"/><circle cx="329.28" cy="142.01" r="1.5"/><circle cx="330.68" cy="141.47" r="1.5"/><circle cx="332.09" cy="140.93" r="1.5"/><circle cx="333.50" cy="140.39" r="1.5"/><circle cx="334.90" cy="139.84" r="1.5"/><circle cx="336.31" cy="139.29" r="1.5"/><circle cx="337.72" cy="138.75" r="1.5"/><circle cx="339.12" cy="138.19" r="1.5"/><circle cx="340.53" cy="137.64" r="1.5"/><circle cx="341.93" cy="137.08" r="1.5"/><circle cx="343.34" cy="136.52" r="1.5"/><circle cx="344.75" cy="135.96" r="1.5"/><circle cx="346.15" cy="135.40" r="1.5"/><circle cx="347.56" cy="134.83" r="1.5"/><circle cx="348.97" cy="134.26" r="1.5"/><circle cx="350.37" cy="133.69" r="1.5"/><circle cx="351.78" cy="133.11" r="1.5"/><circle cx="353.18" cy="132.53" r="1.5"/><circle cx="354.59" cy="131.95" r="1.5"/><circle cx="356.00" cy="131.36" r="1.5"/><circle cx="357.40" cy="130.77" r="1.5"/><circle cx="358.81" cy="130.18" r="1.5"/><circle cx="360.22" cy="129.58" r="1.5"/><circle cx="361.62" cy="128.98" r="1.5"/><circle cx="363.03" cy="128.38" r="1.5"/><circle cx="364.43" cy="127.77" r="1.5"/><circle cx="365.84" cy="127.16" r="1.5"/><circle cx="367.25" cy="126.54" r="1.5"/><circle cx="368.65" cy="125.92" r="1.5"/><circle cx="370.06" cy="125.29" r="1.5"/><circle cx="371.46" cy="124.66" r="1.5"/><circle cx="372.87" cy="124.03" r="1.5"/><circle cx="374.28" cy="123.39" r="1.5"/><circle cx="375.68" cy="122.75" r="1.5"/><circle cx="377.09" cy="122.10" r="1.5"/><circle cx="378.50" cy="121.45" r="1.5"/><circle cx="379.90" cy="120.79" r="1.5"/><circle cx="381.31" cy="120.12" r="1.5"/><circle cx="382.71" cy="119.46" r="1.5"/><circle cx="384.12" cy="118.78" r="1.5"/><circle cx="385.53" cy="118.10" r="1.5"/><circle cx="386.93" cy="117.42" r="1.5"/><circle cx="388.34" cy="116.73" r="1.5"/><circle cx="389.75" cy="116.03" r="1.5"/><circle cx="391.15" cy="115.33" r="1.5"/><circle cx="392.56" cy="114.63" r="1.5"/><circle cx="393.96" cy="113.91" r="1.5"/><circle cx="395.37" cy="113.19" r="1.5"/><circle cx="396.78" cy="112.47" r="1.5"/><circle cx="398.18" cy="111.74" r="1.5"/><circle cx="399.59" cy="111.00" r="1.5"/><circle cx="400.99" cy="110.26" r="1.5"/><circle cx="402.40" cy="109.50" r="1.5"/><circle cx="403.81" cy="108.75" r="1.5"/><circle cx="405.21" cy="107.98" r="1.5"/><circle cx="406.62" cy="107.21" r="1.5"/><circle cx="408.03" cy="106.44" r="1.5"/><circle cx="409.43" cy="105.65" r="1.5"/><circle cx="410.84" cy="104.86" r="1.5"/><circle cx="412.24" cy="104.06" r="1.5"/><circle cx="413.65" cy="103.25" r="1.5"/><circle cx="415.06" cy="102.44" r="1.5"/><circle cx="416.46" cy="101.62" r="1.5"/><circle cx="417.87" cy="100.79" r="1.5"/><circle cx="419.28" cy="99.96" r="1.5"/><circle cx="420.68" cy="99.11" r="1.5"/><circle cx="422.09" cy="98.26" r="1.5"/><circle cx="423.49" cy="97.40" r="1.5"/><circle cx="424.90" cy="96.54" r="1.5"/></g>
<g fill="#0000ff"><rect x="272.60" y="159.85" width="7.80" height="3.9" rx="1.2"/><rect x="279.20" y="157.22" width="7.72" height="3.9" rx="1.2"/><rect x="285.72" y="154.71" width="7.64" height="3.9" rx="1.2"/><rect x="292.17" y="152.30" width="7.57" height="3.9" rx="1.2"/><rect x="298.54" y="149.97" width="7.49" height="3.9" rx="1.2"/><rect x="304.83" y="147.69" width="7.42" height="3.9" rx="1.2"/><rect x="311.05" y="145.45" width="7.35" height="3.9" rx="1.2"/><rect x="317.19" y="143.23" width="7.27" height="3.9" rx="1.2"/><rect x="323.27" y="141.02" width="7.20" height="3.9" rx="1.2"/><rect x="329.27" y="138.80" width="7.13" height="3.9" rx="1.2"/><rect x="335.20" y="136.55" width="7.06" height="3.9" rx="1.2"/><rect x="341.06" y="134.27" width="6.99" height="3.9" rx="1.2"/><rect x="346.85" y="131.95" width="6.92" height="3.9" rx="1.2"/><rect x="352.57" y="129.58" width="6.85" height="3.9" rx="1.2"/><rect x="358.23" y="127.18" width="6.79" height="3.9" rx="1.2"/><rect x="363.81" y="124.72" width="6.72" height="3.9" rx="1.2"/><rect x="369.34" y="122.23" width="6.66" height="3.9" rx="1.2"/><rect x="374.79" y="119.69" width="6.59" height="3.9" rx="1.2"/><rect x="380.19" y="117.12" width="6.53" height="3.9" rx="1.2"/><rect x="385.51" y="114.50" width="6.47" height="3.9" rx="1.2"/><rect x="390.78" y="111.85" width="6.40" height="3.9" rx="1.2"/><rect x="395.98" y="109.16" width="6.34" height="3.9" rx="1.2"/><rect x="401.12" y="106.44" width="6.28" height="3.9" rx="1.2"/><rect x="406.21" y="103.67" width="6.22" height="3.9" rx="1.2"/><rect x="411.23" y="100.88" width="6.16" height="3.9" rx="1.2"/><rect x="416.19" y="98.05" width="6.10" height="3.9" rx="1.2"/><rect x="421.09" y="95.19" width="4.41" height="3.9" rx="1.2"/></g>
<rect x="0" y="292.8" width="484" height="50" fill="#fff"/>
<rect x="426.6" y="0" width="60" height="335" fill="#fff"/>
<g stroke="#000" stroke-width="1.6" fill="none">
<path d="M55.0,292.0 L55.0,0.6 L425.8,0.6 L425.8,292.0 Z"/>
</g>
<g stroke="#000" stroke-width="1.3"><line x1="79.72" y1="292.0" x2="79.72" y2="289.0"/><line x1="104.44" y1="292.0" x2="104.44" y2="286.0"/><line x1="129.16" y1="292.0" x2="129.16" y2="289.0"/><line x1="153.88" y1="292.0" x2="153.88" y2="286.0"/><line x1="178.60" y1="292.0" x2="178.60" y2="289.0"/><line x1="203.32" y1="292.0" x2="203.32" y2="286.0"/><line x1="228.04" y1="292.0" x2="228.04" y2="289.0"/><line x1="252.76" y1="292.0" x2="252.76" y2="286.0"/><line x1="277.48" y1="292.0" x2="277.48" y2="289.0"/><line x1="302.20" y1="292.0" x2="302.20" y2="286.0"/><line x1="326.92" y1="292.0" x2="326.92" y2="289.0"/><line x1="351.64" y1="292.0" x2="351.64" y2="286.0"/><line x1="376.36" y1="292.0" x2="376.36" y2="289.0"/><line x1="401.08" y1="292.0" x2="401.08" y2="286.0"/><line x1="55.0" y1="27.60" x2="61.0" y2="27.60"/><line x1="55.0" y1="61.50" x2="58.0" y2="61.50"/><line x1="55.0" y1="95.40" x2="61.0" y2="95.40"/><line x1="55.0" y1="129.30" x2="58.0" y2="129.30"/><line x1="55.0" y1="163.20" x2="61.0" y2="163.20"/><line x1="55.0" y1="197.10" x2="58.0" y2="197.10"/><line x1="55.0" y1="231.00" x2="61.0" y2="231.00"/><line x1="55.0" y1="264.90" x2="58.0" y2="264.90"/><line x1="425.8" y1="23.60" x2="419.8" y2="23.60"/><line x1="425.8" y1="46.98" x2="422.8" y2="46.98"/><line x1="425.8" y1="70.36" x2="419.8" y2="70.36"/><line x1="425.8" y1="93.74" x2="422.8" y2="93.74"/><line x1="425.8" y1="117.12" x2="419.8" y2="117.12"/><line x1="425.8" y1="140.50" x2="422.8" y2="140.50"/><line x1="425.8" y1="163.88" x2="419.8" y2="163.88"/><line x1="425.8" y1="187.26" x2="422.8" y2="187.26"/><line x1="425.8" y1="210.64" x2="419.8" y2="210.64"/><line x1="425.8" y1="234.02" x2="422.8" y2="234.02"/><line x1="425.8" y1="257.40" x2="419.8" y2="257.40"/><line x1="425.8" y1="280.78" x2="422.8" y2="280.78"/></g>
<g font-family="Liberation Sans" font-weight="bold" font-size="13.5" fill="#000" letter-spacing="-0.4"><text x="55.00" y="308" text-anchor="middle">0</text><text x="104.44" y="308" text-anchor="middle">20</text><text x="153.88" y="308" text-anchor="middle">40</text><text x="203.32" y="308" text-anchor="middle">60</text><text x="252.76" y="308" text-anchor="middle">80</text><text x="302.20" y="308" text-anchor="middle">100</text><text x="351.64" y="308" text-anchor="middle">120</text><text x="401.08" y="308" text-anchor="middle">140</text><text x="49.4" y="31.20" text-anchor="end">15.5</text><text x="49.4" y="99.00" text-anchor="end">15.0</text><text x="49.4" y="166.80" text-anchor="end">14.5</text><text x="49.4" y="234.60" text-anchor="end">14.0</text><text x="432" y="27.20">10.6</text><text x="432" y="73.96">10.4</text><text x="432" y="120.72">10.2</text><text x="432" y="167.48">10.0</text><text x="432" y="214.24">9.8</text><text x="432" y="261.00">9.6</text>
<text x="240.3" y="331.6" text-anchor="middle" font-size="14" letter-spacing="0">T (K)</text>
</g>
<rect x="96.6" y="3.1" width="121" height="31.3" fill="#fff" stroke="#888" stroke-width="1"/>
<text x="104.3" y="22.3" font-family="Liberation Sans" font-weight="bold" font-size="16.8" fill="#000">HoMn<tspan font-size="10" dy="6.1">1-X</tspan><tspan dy="-6.1">Fe</tspan><tspan font-size="10" dy="6.1">X</tspan><tspan dy="-6.1">O</tspan><tspan font-size="10" dy="6.1">3</tspan></text>
<g font-family="Liberation Sans" font-size="14">
<text x="125.2" y="187.7" fill="#ff0000" font-size="14.35">x = 0.25</text>
<text x="269.5" y="139.8" fill="#0000ff">x = 0.1</text>
<text x="207.8" y="246.8" fill="#008000" font-size="14.35">x = 0.05</text>
</g>
<line x1="96.5" y1="177.3" x2="73.6" y2="177.3" stroke="#ff0000" stroke-width="1.3"/><polygon points="65.1,177.3 73.6,174.9 73.0,177.3 73.6,179.70000000000002" fill="#ff0000"/>
<line x1="239.2" y1="156.6" x2="264.5" y2="156.6" stroke="#0000ff" stroke-width="1.3"/><polygon points="273.0,156.6 264.5,154.2 265.1,156.6 264.5,159.0" fill="#0000ff"/>
<line x1="216.4" y1="264.3" x2="195.3" y2="264.3" stroke="#008000" stroke-width="1.3"/><polygon points="186.8,264.3 195.3,261.90000000000003 194.70000000000002,264.3 195.3,266.7" fill="#008000"/>
<defs><g id="eps" fill="none" stroke="#000" stroke-linecap="round">
<path d="M10.6,140.9 C9.1,141.9 8.8,144.4 9.5,146.2 C10.2,147.9 12.3,148.4 13.4,147.3 C14.2,146.5 14.5,145.2 14.5,143.8" stroke-width="1.7"/>
<path d="M14.5,145 C14.7,147.1 16,148.2 17.6,148.2 C19.7,148.2 21,146.7 21,144.4 C21,142.3 20,140.7 18.6,140.8" stroke-width="1.7"/>
<path d="M14.5,145.5 L14.5,142" stroke-width="0.9"/>
<circle cx="10.7" cy="140.9" r="1.2" fill="#000" stroke="none"/>
<circle cx="18.7" cy="140.9" r="1.2" fill="#000" stroke="none"/>
</g></defs>
<use href="#eps"/>
<use href="#eps" transform="translate(462.5,-1.2)"/>
<polygon points="0,134.2 6.3,134.8 7.2,135.8 6.3,136.8 0,137.0" fill="#000"/>
<polygon points="462,132.9 469.4,133.5 470.4,134.4 469.4,135.3 462,135.7" fill="#000"/>
</svg>
</body></html>
